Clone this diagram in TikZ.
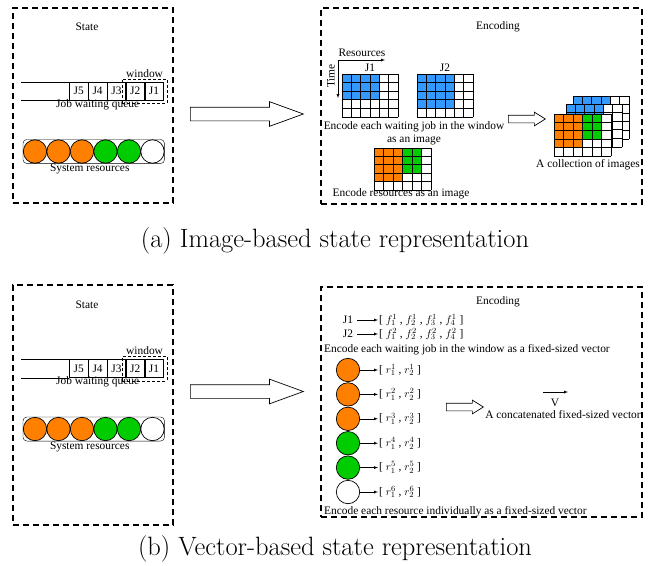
\documentclass[tikz,border=0pt]{standalone}
\usepackage{fontspec}
\newfontfamily\tnr{Liberation Serif}
\usetikzlibrary{positioning,fit,shapes.arrows}
\definecolor{jobblue}{RGB}{51,153,255}
\definecolor{resorange}{RGB}{255,128,0}
\definecolor{resgreen}{RGB}{0,204,0}
\tikzset{
  panel/.style={draw,dash pattern=on 6pt off 4pt,line width=1.2pt,inner sep=0},
  txt/.style={font=\tnr\fontsize{11.4}{13}\selectfont,inner sep=1pt},
  cell/.style={draw,txt,minimum width=18.4pt,minimum height=18pt,inner sep=0},
  res/.style={circle,draw,line width=0.7pt,minimum size=23.4pt,inner sep=0},
  bigarrow/.style={single arrow,draw,line width=0.7pt,text height=13pt,text depth=0pt,single arrow head extend=5.5pt,single arrow tip angle=40,minimum height=113pt,inner sep=0,anchor=tail},
  smallarrow/.style={single arrow,draw,line width=0.7pt,text height=7pt,text depth=0pt,single arrow head extend=3pt,single arrow tip angle=64,minimum height=37pt,inner sep=0,anchor=tail},
  caption/.style={font=\fontsize{26.5}{30}\selectfont}
}
\begin{document}
\begin{tikzpicture}[x=1pt,y=-1pt,>=latex]
\useasboundingbox (0,0) rectangle (648,565);
\node[panel,minimum width=160pt,minimum height=195pt] (statea) at (93,105.5) {};
\node[panel,minimum width=321pt,minimum height=196pt] (enca) at (481.5,106) {};
\node[panel,minimum width=160pt,minimum height=240pt] (stateb) at (93,405) {};
\node[panel,minimum width=321pt,minimum height=230pt] (encb) at (481.5,402) {};
\foreach \p/\dy in {a/0,b/277.5}{
  \node[txt] (st\p) at (87,{27+\dy}) {State};
  \node[cell] (j1\p) at (154,{91+\dy}) {J1};
  \node[cell,left=0pt of j1\p] (j2\p) {J2};
  \node[cell,left=0pt of j2\p] (j3\p) {J3};
  \node[cell,left=0pt of j3\p] (j4\p) {J4};
  \node[cell,left=0pt of j4\p] (j5\p) {J5};
  \draw (j5\p.north west) -- ++(-48,0) (j5\p.south west) -- ++(-48,0);
  \node[draw,densely dashed,fit=(j2\p)(j1\p),inner xsep=3.5pt,inner ysep=3pt] (win\p) {};
  \node[txt,above=0pt of win\p] (wl\p) {window};
  \node[txt,below=-2pt of j4\p] (ql\p) {Job waiting queue};
  \foreach \c [count=\i] in {resorange,resorange,resorange,resgreen,resgreen,white}
    \node[res,fill=\c] (r\i\p) at ({35+23.5*(\i-1)},{151.5+\dy}) {};
  \node[draw,rounded corners=4pt,fit=(r1\p)(r6\p),inner sep=0] (rs\p) {};
  \node[txt,below=-1pt of rs\p,xshift=-4pt] (rl\p) {System resources};
  \node[bigarrow] (ar\p) at (190,{114+\dy}) {};
}
\node[txt] (tta) at (498,27) {Encoding};
\node[txt] (axr) at (362,53) {Resources};
\node[txt,rotate=90] (axt) at (331,76) {Time};
\coordinate (o) at (338,60);
\coordinate (ox) at (385,60);
\coordinate (oy) at (338,98);
\draw[->] (o) -- (ox);
\draw[->] (o) -- (oy);
\foreach \gx/\gy/\bw/\bh in {342/74/4/3,417/74/4/4,573/96/4/3,566/104/4/4}{
  \begin{scope}[shift={(\gx,\gy)},x=9.35pt,y=8.6pt]
    \fill[white] (0,0) rectangle (6,-5);
    \fill[jobblue] (0,0) rectangle (\bw,-\bh);
    \draw[line width=0.8pt,step=1] (0,-5) grid (6,0);
  \end{scope}
}
\foreach \gx/\gy in {374/148,554/114}{
  \begin{scope}[shift={(\gx,\gy)},x=9.5pt,y=8.4pt]
    \fill[white] (0,0) rectangle (6,-5);
    \fill[resorange] (0,0) rectangle (3,-4);
    \fill[resgreen] (3,0) rectangle (5,-3);
    \draw[line width=0.8pt,step=1] (0,-5) grid (6,0);
  \end{scope}
}
\node[txt] (g1) at (370,68) {J1};
\node[txt] (g2) at (445,68) {J2};
\node[txt,align=center] (ej) at (414,133) {Encode each waiting job in the window\\as an image};
\node[txt] (er) at (401,194) {Encode resources as an image};
\node[smallarrow] (sa) at (508,119) {};
\node[txt] (col) at (588,165) {A collection of images};
\node[txt] (ttb) at (498,302) {Encoding};
\node[txt] (fj1) at (348,320) {J1};
\node[txt,anchor=west] (fv1) at (378,320) {[ $f^1_1$ , $f^1_2$ , $f^1_3$ , $f^1_4$ ]};
\node[txt] (fj2) at (348,334) {J2};
\node[txt,anchor=west] (fv2) at (378,334) {[ $f^2_1$ , $f^2_2$ , $f^2_3$ , $f^2_4$ ]};
\draw[->,shorten <=3pt] (fj1) -- (fv1);
\draw[->,shorten <=3pt] (fj2) -- (fv2);
\node[txt,anchor=west] (efv) at (323,350) {Encode each waiting job in the window as a fixed-sized vector};
\foreach \c [count=\i] in {resorange,resorange,resorange,resgreen,resgreen,white}{
  \node[res,fill=\c] (c\i) at (348,{370+24.4*(\i-1)}) {};
  \node[txt,anchor=west] (rv\i) at (378,{370+24.4*(\i-1)}) {[ $r^{\i}_1$ , $r^{\i}_2$ ]};
  \draw[->] (c\i) -- (rv\i);
}
\node[txt,anchor=west] (erv) at (323,512) {Encode each resource individually as a fixed-sized vector};
\node[smallarrow] (sb) at (446,407) {};
\node[txt] (v) at (555,403) {V};
\coordinate (v1) at (543,392);
\coordinate (v2) at (568,392);
\draw[->] (v1) -- (v2);
\node[txt] (cv) at (563,415) {A concatenated fixed-sized vector};
\node[caption] (capa) at (335,241) {(a) Image-based state representation};
\node[caption] (capb) at (335,549) {(b) Vector-based state representation};
\end{tikzpicture}
\end{document}
